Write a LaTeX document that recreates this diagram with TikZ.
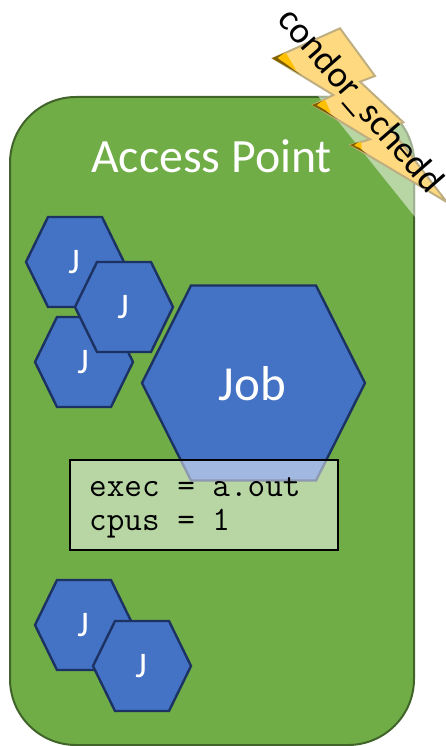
\documentclass[tikz,border=0pt]{standalone}
\usepackage{fontspec}
\setmainfont{Carlito}
\newcommand{\hexa}[7]{% name cx cy hw inset hh label
  \draw[hexline] (#2-#4,#3) -- (#2-#4+#5,#3-#6) -- (#2+#4-#5,#3-#6) -- (#2+#4,#3) -- (#2+#4-#5,#3+#6) -- (#2-#4+#5,#3+#6) -- cycle;
  \node[hextext] (#1) at (#2-1,#3+0.5) {#7};}
\newcommand{\bolttip}[5]{% tip, upper end, inner, lower end of dark edge, upper end of dark edge
  \fill[tipfill] (#1) -- (#2) -- (#3) -- cycle;
  \fill[tipedge] (#1) -- (#5) -- ($(#1)!.35!(#5)+(1.2,1.6)$) -- ($(#1)!.5!(#4)+(1,-1.6)$) -- (#4) -- cycle;}
\usetikzlibrary{calc}
\tikzset{
  hexline/.style={fill=hexblue,draw=hexedge,line width=2.4pt,line join=miter},
  hextext/.style={text=white,inner sep=0pt}
}
\definecolor{apgreen}{HTML}{70AD47}
\definecolor{apedge}{HTML}{41642A}
\definecolor{hexblue}{HTML}{4472C4}
\definecolor{hexedge}{HTML}{1C3263}
\definecolor{boltfill}{HTML}{FFD97F}
\definecolor{boltedge}{HTML}{BFAE80}
\definecolor{tipfill}{HTML}{FFC000}
\definecolor{tipedge}{HTML}{7F6000}
\begin{document}
\begin{tikzpicture}[x=1pt,y=-1pt]
\useasboundingbox (0,0) rectangle (446,746);
\draw[fill=apgreen,draw=apedge,line width=2pt,rounded corners=66pt] (10,97) rectangle (414,745);
\begin{scope}
\clip[rounded corners=67pt] (9,96) rectangle (415,746);
\fill[white,opacity=.5] (318,96) -- (415,217) -- (416,96) -- cycle;
\end{scope}
\node[text=white,font=\fontsize{47.8}{52}\selectfont,inner sep=0pt] (ap) at (211.5,156.5) {Access Point};
\hexa{j1}{75}{262}{49}{22}{45}{\fontsize{36}{40}\selectfont J}
\hexa{j3}{84}{362}{49}{22}{45}{\fontsize{36}{40}\selectfont J}
\hexa{j2}{124}{307}{49}{22}{45}{\fontsize{36}{40}\selectfont J}
\hexa{j4}{84}{625}{49}{22}{45}{\fontsize{36}{40}\selectfont J}
\hexa{j5}{142}{666}{49}{22}{45}{\fontsize{36}{40}\selectfont J}
\hexa{job}{253.5}{383}{111.5}{49}{97.5}{\fontsize{49}{52}\selectfont Job}
\node[draw=black,line width=1.5pt,outer sep=0pt,fill=white,fill opacity=.5,text opacity=1,minimum width=268pt,minimum height=90pt,anchor=north west,inner sep=0pt] (cfg) at (70,460) {};
\node[anchor=west,font=\ttfamily\fontsize{34.2}{34.5}\selectfont,align=left,inner sep=0pt] (cfgtext) at (89,508) {exec = a.out\\cpus = 1};
\draw[fill=boltfill,draw=boltedge,line width=2pt,line join=miter] (273.3,58.3) -- (340,28.3) -- (375,76) -- (360,81.7) -- (403.3,122.3) -- (390,128) -- (446.7,202) -- (351,145) -- (370,139.3) -- (313.3,105) -- (333.3,95) -- cycle;
\bolttip{272,58.3}{286,53}{296,70}{301,75}{284,53}
\bolttip{312,105}{325,100}{331,113}{337,119}{322,101}
\bolttip{350,145}{361,142}{362,151}{367,154}{358,142}
\node[rotate=-49,font=\fontsize{37}{40}\selectfont,inner sep=0pt] (sch) at (360,101) {condor\_schedd};
\end{tikzpicture}
\end{document}
